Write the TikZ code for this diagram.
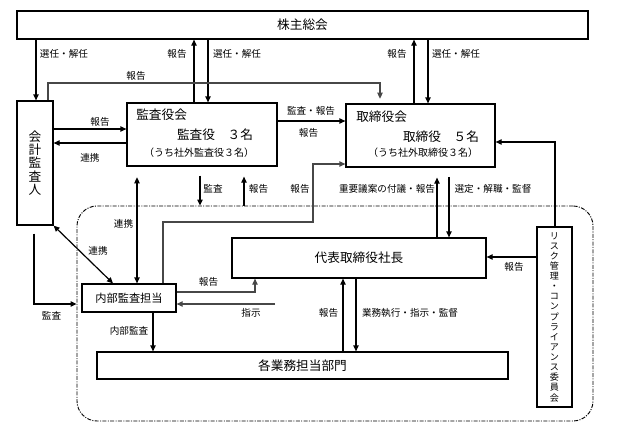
\documentclass[tikz,border=0pt]{standalone}
\usepackage{fontspec}
\setmainfont{Noto Sans CJK JP}
\usetikzlibrary{arrows.meta}

\begin{document}
\begin{tikzpicture}[x=0.75pt, y=-0.75pt,
        box/.style={draw, line width=0.9pt, inner sep=0pt},
        big/.style={font=\fontsize{9.5}{11}\selectfont},
        small/.style={font=\fontsize{7.5}{9}\selectfont},
        lbl/.style={font=\fontsize{7.2}{8}\selectfont, inner sep=0pt},
        arr/.style={line width=0.9pt, -{Triangle[length=4.5pt,width=4pt]}},
        twoarr/.style={line width=0.9pt, {Triangle[length=4.5pt,width=4pt]}-{Triangle[length=4.5pt,width=4pt]}},
        gline/.style={draw=black!72}]
        \useasboundingbox (0,0) rectangle (622,432);

        % company area
        \node[draw, line width=0.7pt, dash pattern=on 3pt off 1pt on 0.8pt off 1pt, rounded corners=15pt, minimum width=387pt, minimum height=161.25pt] (company) at (335,313.5) {};

        % boxes
        \node[box, big, minimum width=428.25pt, minimum height=21pt] (gm) at (302.5,25) {株主総会};
        \node[box, align=center, minimum width=27pt, minimum height=93pt, font=\fontsize{9.5}{9.9}\selectfont] (auditor) at (35,163) {会\\計\\監\\査\\人};
        \node[box, minimum width=112.5pt, minimum height=47.25pt] (kansa) at (202,134.5) {};
        \node[box, minimum width=111.75pt, minimum height=47.25pt] (board) at (420.5,135.5) {};
        \node[box, minimum width=70.5pt, minimum height=21pt, font=\fontsize{8.4}{10}\selectfont] (internal) at (129,298) {内部監査担当};
        \node[box, big, minimum width=190.5pt, minimum height=30pt] (ceo) at (359,258) {代表取締役社長};
        \node[box, big, minimum width=308.25pt, minimum height=20.25pt] (depts) at (302.5,365.5) {各業務担当部門};
        \node[box, align=center, minimum width=26.25pt, minimum height=135pt, font=\fontsize{6.8}{7.6}\selectfont] (risk) at (554.5,317) {リ\\ス\\ク\\管\\理\\・\\コ\\ン\\プ\\ラ\\イ\\ア\\ン\\ス\\委\\員\\会};

        % texts in the two boards
        \node[big, anchor=west, inner sep=0pt] (kansat) at (136,115) {監査役会};
        \node[big, inner sep=0pt] (kansan) at (215,135) {監査役　３名};
        \node[small, inner sep=0pt] (kansao) at (199,153) {（うち社外監査役３名）};
        \node[big, anchor=west, inner sep=0pt] (boardt) at (356,117) {取締役会};
        \node[big, inner sep=0pt] (boardn) at (441,137) {取締役　５名};
        \node[small, inner sep=0pt] (boardo) at (423,153) {（うち社外取締役３名）};

        % shareholders meeting
        \draw[arr] (36,0 |- gm.south) -- (36,0 |- auditor.north);
        \draw[arr] (194,0 |- kansa.north) -- (194,0 |- gm.south);
        \draw[arr] (208,0 |- gm.south) -- (208,0 |- kansa.north);
        \draw[arr] (414,0 |- board.north) -- (414,0 |- gm.south);
        \draw[arr] (428,0 |- gm.south) -- (428,0 |- board.north);
        \draw[arr, gline, shorten >=3.5pt] (48,0 |- auditor.north) -- (48,83) -- (380,83) -- (380,0 |- board.north);
        \node[lbl] (l1) at (64,54) {選任・解任};
        \node[lbl] (l2) at (177,54) {報告};
        \node[lbl] (l3) at (237,54) {選任・解任};
        \node[lbl] (l4) at (397,54) {報告};
        \node[lbl] (l5) at (456,54) {選任・解任};
        \node[lbl] (l6) at (136,76) {報告};

        % auditors
        \draw[arr] (auditor.east |- 0,129) -- (kansa.west |- 0,129);
        \draw[arr] (kansa.west |- 0,143) -- (auditor.east |- 0,143);
        \draw[arr] (kansa.east |- 0,121) -- (board.west |- 0,121);
        \node[lbl] (l7) at (100,122) {報告};
        \node[lbl] (l8) at (90,158) {連携};
        \node[lbl] (l9) at (311,111) {監査・報告};
        \node[lbl] (l10) at (308.5,133) {報告};

        \draw[twoarr, shorten <=8pt] (137,0 |- kansa.south) -- (137,0 |- internal.north);
        \draw[arr, shorten <=6.75pt] (200,0 |- kansa.south) -- (200,0 |- company.north);
        \draw[arr, shorten >=7.5pt] (244,0 |- company.north) -- (244,0 |- kansa.south);
        \draw[arr, gline] (163,0 |- internal.north) |- (313,222) |- (board.west |- 0,164);
        \node[lbl] (l11) at (213,189) {監査};
        \node[lbl] (l12) at (258.5,189) {報告};
        \node[lbl] (l13) at (300,189) {報告};
        \node[lbl] (l14) at (123.5,224) {連携};

        % board and president
        \draw[arr, shorten >=7.5pt] (437,0 |- ceo.north) -- (437,0 |- board.south);
        \draw[arr, shorten <=7pt] (449,0 |- board.south) -- (449,0 |- ceo.north);
        \draw[arr] (555,0 |- risk.north) |- (board.east |- 0,142);
        \draw[arr] (risk.west |- 0,257) -- (ceo.east |- 0,257);
        \node[lbl] (l15) at (387,189) {重要議案の付議・報告};
        \node[lbl] (l16) at (493,189) {選定・解職・監督};
        \node[lbl] (l17) at (514,267) {報告};

        % internal audit
        \draw[twoarr] (auditor.south east) -- (113,0 |- internal.north);
        \draw[arr, shorten <=6pt] (34,0 |- auditor.south) |- (company.west |- 0,304);
        \draw[arr, gline] (internal.east |- 0,292) -| (255,0 |- ceo.south);
        \coordinate (shiji) at (275,304);
        \draw[arr, gline] (shiji) -- (internal.east |- shiji);
        \draw[arr] (153,0 |- internal.south) -- (153,0 |- depts.north);
        \node[lbl] (l18) at (98,251) {連携};
        \node[lbl] (l19) at (51.5,316) {監査};
        \node[lbl] (l20) at (208.5,282) {報告};
        \node[lbl] (l21) at (251,313) {指示};
        \node[lbl] (l22) at (129,331) {内部監査};

        % departments
        \draw[arr] (343,0 |- depts.north) -- (343,0 |- ceo.south);
        \draw[arr] (356,0 |- ceo.south) -- (356,0 |- depts.north);
        \node[lbl] (l23) at (328.5,313) {報告};
        \node[lbl] (l24) at (410,313) {業務執行・指示・監督};
    \end{tikzpicture}
\end{document}
